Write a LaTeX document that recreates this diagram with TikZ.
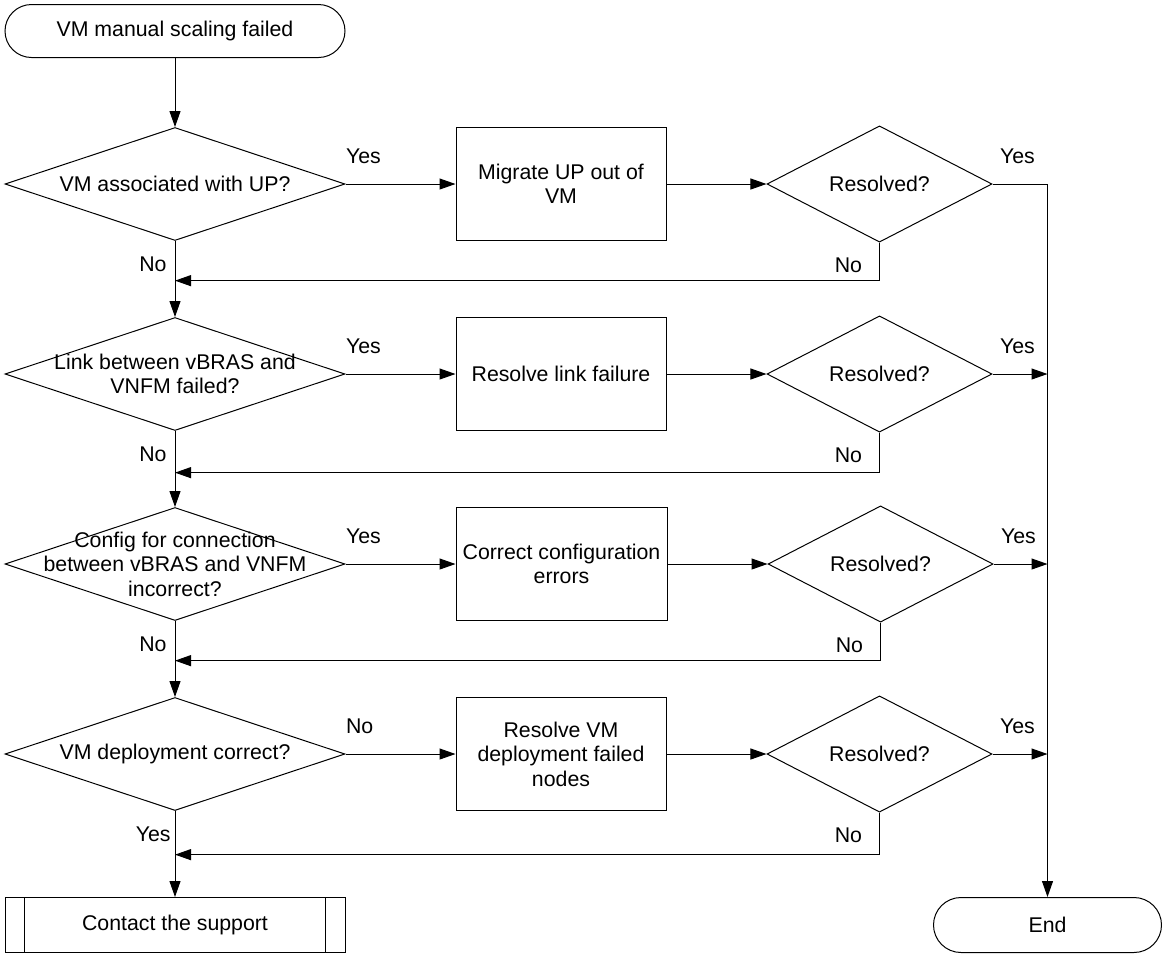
\documentclass[tikz,border=0pt]{standalone}
\usepackage{fontspec}
\setmainfont{Liberation Sans}
\usepackage{tikz}
\usetikzlibrary{positioning, shapes.geometric, arrows.meta}
\tikzset{
	every node/.append style={
		font={\fontsize{10.65pt}{12.25pt}\selectfont},
	},
	terminal/.append style={
		draw, rectangle, rounded corners=13.25pt,
		minimum width=170pt, minimum height=26.5pt,
	},
	decision/.append style={
		draw, diamond, inner sep=0pt,
		minimum width=170pt, minimum height=56.5pt,
	},
	check/.append style={
		decision, minimum width=112.5pt,
	},
	dectext/.append style={
		align=center, inner sep=0pt,
	},
	process/.append style={
		draw, align=center,
		minimum width=105pt, minimum height=56.5pt,
	},
	subproc/.append style={
		draw,
		minimum width=170pt, minimum height=27.5pt,
		append after command={
			([xshift=10pt]\tikzlastnode.north west)
			edge ([xshift=10pt]\tikzlastnode.south west)
			([xshift=-10pt]\tikzlastnode.north east)
			edge ([xshift=-10pt]\tikzlastnode.south east)
		},
	},
	labe/.append style={
		inner sep=0pt,
	},
	flow/.append style={
		-{Triangle[length=8pt, width=5.5pt]},
	},
}

\begin{document}
\begin{tikzpicture}[line width=0.5pt]
		\useasboundingbox (0,0) rectangle (581pt,-477pt);
		
		\node(start)[terminal] at (87.5pt,-15.5pt) {VM manual scaling failed};
		
		\node(assoc)[decision, below=34.5pt of start, label={[dectext]center:VM associated with UP?}]{};
		\node(link)[decision, below=38pt of assoc, label={[dectext]center:Link between vBRAS and\\VNFM failed?}]{};
		\node(config)[decision, below=38pt of link, label={[dectext]center:Config for connection\\between vBRAS and VNFM\\incorrect?}]{};
		\node(deploy)[decision, below=38pt of config, label={[dectext]center:VM deployment correct?}]{};
		\node(support)[subproc, below=43pt of deploy]{Contact the support};
		
		\node(migrate)[process, right=55pt of assoc]{Migrate UP out of\\VM};
		\node(fixlink)[process, right=55pt of link]{Resolve link failure};
		\node(fixconf)[process, right=55pt of config]{Correct configuration\\errors};
		\node(fixvm)[process, right=55pt of deploy]{Resolve VM\\deployment failed\\nodes};
		
		\node(res1)[check, right=50pt of migrate]{Resolved?};
		\node(res2)[check, right=50pt of fixlink]{Resolved?};
		\node(res3)[check, right=50pt of fixconf]{Resolved?};
		\node(res4)[check, right=50pt of fixvm]{Resolved?};
		
		\coordinate[right=27.5pt of res1] (join);
		\node(end)[terminal, rounded corners=13.75pt, minimum width=114pt, minimum height=27.5pt] at (join |- support) {End};
		
		\coordinate[below=19pt of res1] (fb1);
		\coordinate[below=20pt of res2] (fb2);
		\coordinate[below=19pt of res3] (fb3);
		\coordinate[below=21pt of res4] (fb4);
		
		% branch labels
		\node(yes1)[labe, above right=10pt and 0pt of assoc.east]{Yes};
		\node(yes2)[labe, above right=10pt and 0pt of link.east]{Yes};
		\node(yes3)[labe, above right=10pt and 0pt of config.east]{Yes};
		\node(no4)[labe, above right=10pt and 0pt of deploy.east]{No};
		\node(no1)[labe, below left=7.5pt and 4pt of assoc.south]{No};
		\node(no2)[labe, below left=7.5pt and 4pt of link.south]{No};
		\node(no3)[labe, below left=7.5pt and 4pt of config.south]{No};
		\node(yes4)[labe, below left=7.5pt and 2pt of deploy.south]{Yes};
		\foreach \i in {1,...,4}{
			\node(ry\i)[labe, above right=10pt and 3.5pt of res\i.east]{Yes};
			\node(rn\i)[labe, below left=7.5pt and 8.5pt of res\i.south]{No};
		};
		
		\draw[flow] (start) -- (assoc);
		\foreach \d/\p/\r/\f in {assoc/migrate/res1/fb1, link/fixlink/res2/fb2, config/fixconf/res3/fb3, deploy/fixvm/res4/fb4}{
			\draw[flow] (\d) -- (\p);
			\draw[flow] (\p) -- (\r);
			\draw[flow] (\r.south) |- (\d.south |- \f);
		};
		\draw[flow] (assoc) -- (link);
		\draw[flow] (link) -- (config);
		\draw[flow] (config) -- (deploy);
		\draw[flow] (deploy) -- (support);
		
		\draw[flow] (res1.east) -| (end);
		\foreach \r in {res2, res3, res4}{
			\draw[flow] (\r.east) -- (\r.east -| end);
		};
\end{tikzpicture}
\end{document}
